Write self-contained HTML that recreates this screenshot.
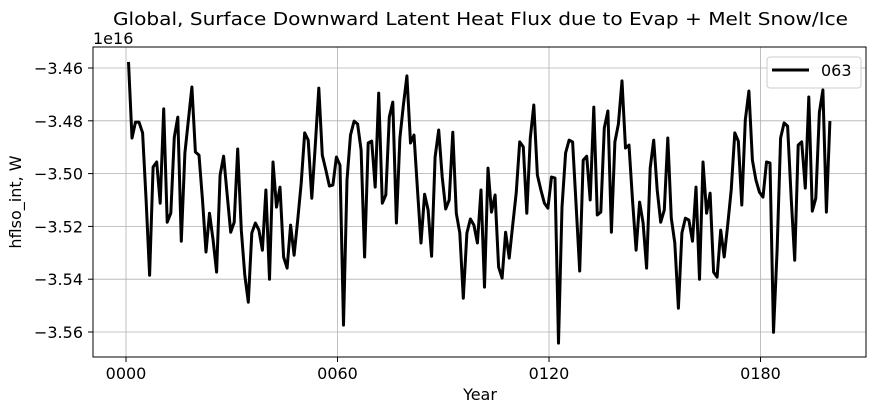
<!DOCTYPE html>
<html><head><meta charset="utf-8"><style>
body{margin:0;background:#fff;}
svg{display:block;font-family:"DejaVu Sans","Liberation Sans",sans-serif;}
</style></head><body>
<svg id="chart" width="877" height="412" viewBox="0 0 877 412" xmlns="http://www.w3.org/2000/svg">
<rect x="0" y="0" width="877" height="412" fill="#fff"/>
<text x="113" y="25" font-size="18" textLength="735" lengthAdjust="spacingAndGlyphs">Global, Surface Downward Latent Heat Flux due to Evap + Melt Snow/Ice</text>
<text x="93" y="44" font-size="16">1e16</text>
<g id="grid"></g>
<g id="series"></g>
<rect x="93" y="47" width="773" height="310" fill="none" stroke="#000" stroke-width="1"/>
<g id="ticks"></g>
<text x="480" y="400" text-anchor="middle" font-size="16">Year</text>
<text transform="translate(21,202) rotate(-90)" text-anchor="middle" font-size="16">hflso_int, W</text>
<g>
<rect x="767" y="57" width="94" height="31" rx="3" fill="#fff" fill-opacity="0.8" stroke="#ccc"/>
<line x1="772" y1="70" x2="809" y2="70" stroke="#000" stroke-width="3"/>
<text x="821" y="76" font-size="16">063</text>
</g>
</svg>
<script>
const xTicks = [0, 60, 120, 180];
const xTickLabels = ["0000", "0060", "0120", "0180"];
const yTicks = [-3.46, -3.48, -3.50, -3.52, -3.54, -3.56];
const yTickLabels = ["−3.46", "−3.48", "−3.50", "−3.52", "−3.54", "−3.56"];
const values = [
-3.4577,-3.4865,-3.4805,-3.4805,-3.4846,-3.5100,-3.5385,-3.4975,-3.4956,-3.5112,
-3.4755,-3.5184,-3.5150,-3.4862,-3.4786,-3.5256,-3.4922,-3.4797,-3.4672,-3.4918,
-3.4930,-3.5100,-3.5297,-3.5150,-3.5252,-3.5373,-3.5006,-3.4934,-3.5081,-3.5222,
-3.5184,-3.4907,-3.5214,-3.5385,-3.5487,-3.5225,-3.5187,-3.5214,-3.5290,-3.5062,
-3.5400,-3.4956,-3.5127,-3.5051,-3.5316,-3.5358,-3.5195,-3.5309,-3.5176,-3.5036,
-3.4846,-3.4873,-3.5093,-3.4892,-3.4676,-3.4930,-3.4987,-3.5047,-3.5043,-3.4937,
-3.4968,-3.5574,-3.5024,-3.4854,-3.4801,-3.4812,-3.4911,-3.5316,-3.4884,-3.4877,
-3.5051,-3.4695,-3.5112,-3.5081,-3.4786,-3.4729,-3.5187,-3.4865,-3.4740,-3.4630,
-3.4884,-3.4854,-3.5062,-3.5263,-3.5078,-3.5138,-3.5313,-3.4937,-3.4835,-3.5013,
-3.5134,-3.5100,-3.4843,-3.5150,-3.5225,-3.5472,-3.5225,-3.5172,-3.5195,-3.5263,
-3.5062,-3.5430,-3.4979,-3.5146,-3.5081,-3.5354,-3.5396,-3.5222,-3.5320,-3.5195,
-3.5074,-3.4880,-3.4899,-3.5150,-3.4865,-3.4740,-3.5006,-3.5062,-3.5112,-3.5131,
-3.5013,-3.5017,-3.5642,-3.5127,-3.4922,-3.4873,-3.4880,-3.5119,-3.5369,-3.4949,
-3.4934,-3.5100,-3.4748,-3.5157,-3.5146,-3.4827,-3.4763,-3.5222,-3.4880,-3.4812,
-3.4649,-3.4903,-3.4892,-3.5100,-3.5290,-3.5108,-3.5187,-3.5358,-3.4979,-3.4873,
-3.5062,-3.5184,-3.5138,-3.4865,-3.5169,-3.5263,-3.5510,-3.5225,-3.5169,-3.5176,
-3.5256,-3.5051,-3.5400,-3.4956,-3.5150,-3.5074,-3.5373,-3.5392,-3.5214,-3.5316,
-3.5195,-3.5062,-3.4846,-3.4877,-3.5119,-3.4797,-3.4687,-3.4949,-3.5024,-3.5070,
-3.5089,-3.4956,-3.4960,-3.5601,-3.5290,-3.4865,-3.4808,-3.4820,-3.5093,-3.5328,
-3.4892,-3.4880,-3.5055,-3.4710,-3.5142,-3.5093,-3.4767,-3.4683,-3.5146,-3.4801
];
const years = values.map((v, i) => i + 1);

const NS = "http://www.w3.org/2000/svg";
function xScale(t) { return 126 + (t - 0.3) * 3.525; }
function yScale(v) { return 68 + (-3.46 - v) / 0.02 * 52.8; }

const grid = document.getElementById('grid');
const ticks = document.getElementById('ticks');
xTicks.forEach((t, i) => {
  const x = 126 + t * 3.525;
  const g = document.createElementNS(NS, 'line');
  g.setAttribute('x1', x); g.setAttribute('x2', x);
  g.setAttribute('y1', 47); g.setAttribute('y2', 357);
  g.setAttribute('stroke', '#b0b0b0'); g.setAttribute('stroke-width', '0.8');
  
  
  grid.appendChild(g);
  const tk = document.createElementNS(NS, 'line');
  tk.setAttribute('x1', x); tk.setAttribute('x2', x);
  tk.setAttribute('y1', 357); tk.setAttribute('y2', 362);
  tk.setAttribute('stroke', '#000');
  
  
  ticks.appendChild(tk);
  const tx = document.createElementNS(NS, 'text');
  tx.setAttribute('x', x); tx.setAttribute('y', 379);
  tx.setAttribute('text-anchor', 'middle'); tx.setAttribute('font-size', '16');
  tx.textContent = xTickLabels[i];
  
  
  ticks.appendChild(tx);
});
yTicks.forEach((v, i) => {
  const y = yScale(v);
  const g = document.createElementNS(NS, 'line');
  g.setAttribute('x1', 93); g.setAttribute('x2', 866);
  g.setAttribute('y1', y); g.setAttribute('y2', y);
  g.setAttribute('stroke', '#b0b0b0'); g.setAttribute('stroke-width', '0.8');
  
  
  grid.appendChild(g);
  const tk = document.createElementNS(NS, 'line');
  tk.setAttribute('x1', 88); tk.setAttribute('x2', 93);
  tk.setAttribute('y1', y); tk.setAttribute('y2', y);
  tk.setAttribute('stroke', '#000');
  
  
  ticks.appendChild(tk);
  const tx = document.createElementNS(NS, 'text');
  tx.setAttribute('x', 83); tx.setAttribute('y', y + 6);
  tx.setAttribute('text-anchor', 'end'); tx.setAttribute('font-size', '16');
  tx.textContent = yTickLabels[i];
  
  
  ticks.appendChild(tx);
});
const pts = values.map((v, i) => xScale(years[i]).toFixed(1) + ',' + yScale(v).toFixed(1)).join(' ');
const line = document.createElementNS(NS, 'polyline');
line.setAttribute('points', pts);
line.setAttribute('fill', 'none');
line.setAttribute('stroke', '#000');
line.setAttribute('stroke-width', '3');
line.setAttribute('stroke-linejoin', 'round');


document.getElementById('series').appendChild(line);
</script>
</body></html>
